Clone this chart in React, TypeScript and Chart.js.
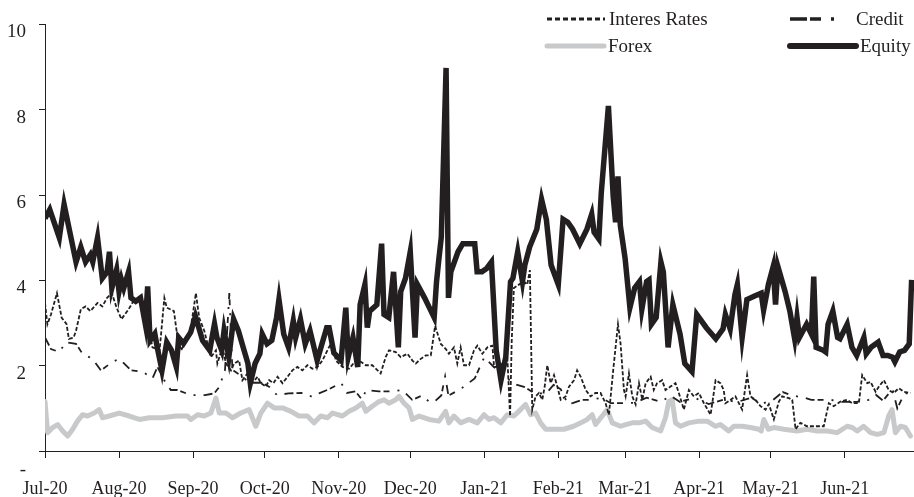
import { useEffect, useRef } from "react";
import { Chart, registerables } from "chart.js";

Chart.register(...registerables);

// ---- Data (x = days since 1 Jul 2020) ----
const monthDays = [0, 31, 62, 92, 123, 153, 184, 215, 243, 274, 304, 335];
const monthLabels = ["Jul-20", "Aug-20", "Sep-20", "Oct-20", "Nov-20", "Dec-20", "Jan-21", "Feb-21", "Mar-21", "Apr-21", "May-21", "Jun-21"];
const yTickValues = [0, 2, 4, 6, 8, 10];
const seriesNames = ["Interes Rates", "Credit", "Forex", "Equity"];

const equityDays = [0, 2, 6, 8, 13, 15, 17, 19, 20, 22, 24, 26, 27, 28, 30, 31, 32, 33, 35, 36, 38, 40, 42, 43, 44, 46, 47, 49, 51, 53, 55, 56, 58, 61, 63, 66, 69, 71, 72, 74, 75, 77, 79, 81, 83, 85, 86, 88, 90, 91, 93, 95, 97, 98, 100, 102, 104, 105, 107, 109, 111, 114, 116, 118, 119, 121, 122, 124, 126, 127, 129, 131, 132, 134, 135, 136, 139, 141, 142, 144, 146, 148, 149, 151, 153, 155, 156, 159, 161, 163, 164, 165, 166, 168, 169, 170, 173, 175, 180, 181, 183, 185, 187, 189, 191, 193, 195, 196, 198, 200, 201, 203, 206, 208, 210, 212, 215, 217, 219, 221, 224, 227, 229, 230, 232, 233, 236, 238, 239, 240, 241, 243, 245, 247, 249, 250, 252, 253, 254, 256, 258, 259, 261, 263, 266, 268, 271, 273, 277, 281, 284, 285, 287, 289, 290, 292, 294, 297, 300, 301, 303, 305, 306, 307, 310, 312, 314, 315, 316, 319, 321, 322, 323, 326, 327, 328, 330, 332, 333, 336, 338, 340, 343, 344, 346, 349, 351, 353, 355, 356, 358, 360, 362, 363];
const equityValues = [5.45, 5.66, 5.0, 5.78, 4.43, 4.78, 4.43, 4.6, 4.43, 5.0, 4.05, 4.2, 4.67, 3.82, 4.25, 3.74, 4.02, 3.82, 4.2, 3.59, 3.51, 3.59, 2.98, 3.86, 2.59, 2.75, 2.43, 1.89, 2.55, 2.36, 1.97, 2.66, 2.52, 2.78, 3.16, 2.59, 2.36, 2.98, 2.66, 2.36, 2.82, 2.2, 3.09, 2.82, 2.43, 2.05, 1.59, 2.05, 2.28, 2.74, 2.51, 2.59, 3.13, 3.55, 2.74, 2.43, 3.05, 2.66, 3.09, 2.51, 2.82, 2.12, 2.51, 2.89, 2.89, 2.3, 2.24, 2.12, 3.36, 2.2, 2.66, 1.97, 3.43, 3.9, 2.89, 3.28, 3.43, 4.86, 3.2, 3.13, 4.2, 2.43, 3.74, 4.05, 4.67, 2.66, 3.9, 3.59, 3.36, 3.13, 3.97, 4.51, 5.01, 8.98, 3.59, 4.2, 4.67, 4.86, 4.86, 4.2, 4.2, 4.28, 4.43, 2.36, 1.66, 2.2, 3.97, 4.05, 4.67, 3.97, 4.36, 4.78, 5.2, 5.9, 5.43, 4.36, 3.9, 5.43, 5.36, 5.2, 4.86, 5.2, 5.55, 5.13, 4.97, 6.05, 8.09, 5.97, 5.36, 6.44, 5.28, 4.51, 3.36, 3.82, 3.97, 3.32, 3.97, 4.01, 2.97, 3.13, 4.43, 4.2, 2.43, 3.43, 2.74, 2.05, 1.86, 3.2, 2.89, 2.63, 2.86, 3.2, 2.86, 3.67, 3.9, 2.66, 3.55, 3.63, 3.7, 3.3, 3.9, 4.32, 3.43, 4.32, 3.74, 3.28, 2.63, 3.13, 2.66, 2.97, 2.74, 4.09, 2.43, 2.36, 2.32, 2.97, 3.28, 2.66, 2.63, 2.97, 2.43, 2.24, 2.66, 2.28, 2.43, 2.55, 2.24, 2.24, 2.2, 2.09, 2.32, 2.36, 2.51, 4.01];

const ratesDays = [0, 1, 2.5, 5, 7, 9, 10, 12, 13, 15, 17, 19, 22, 24, 26, 28, 30, 32, 35, 37, 39.5, 41, 43, 45, 48, 50, 51, 54, 55.5, 57, 58.3, 60.4, 61.8, 63.2, 64.6, 66.7, 69.5, 71.6, 72.2, 74.3, 75.8, 77.9, 79.2, 81.3, 82.7, 84.8, 86.9, 89, 90.4, 92.5, 93.9, 95.7, 97.4, 99.5, 101.6, 103.6, 105.7, 107.8, 109.9, 112, 114.1, 116.2, 118.3, 120.4, 121.8, 124.6, 127.4, 130.2, 132.3, 134.4, 137.1, 140.6, 142.7, 144.1, 146.9, 149, 151.8, 153.9, 155.3, 157.4, 159.5, 161.6, 163.4, 165.8, 167.9, 169.2, 171.3, 172.7, 174.1, 175.5, 177.6, 179.7, 181.1, 183.2, 185.3, 187.4, 188.1, 190.2, 191.5, 193.6, 194.8, 195.5, 196.4, 198.5, 200.6, 202, 203.1, 204.1, 205.5, 206.9, 208.3, 209.3, 210.4, 211.8, 213.2, 214.6, 216, 218.1, 219.5, 221.6, 222.9, 224.4, 226.5, 228.5, 230.6, 232.7, 234.8, 236.2, 238, 240, 241.1, 242.5, 243.2, 244.6, 246, 247.4, 248.8, 250.2, 251.6, 253.7, 255, 256.4, 258.5, 259.9, 262, 264.1, 265.5, 267.6, 269.7, 271.8, 273.9, 276, 278.8, 280.9, 282.9, 284.3, 285, 287.2, 289.2, 292, 294.1, 295.5, 297.6, 299.7, 301.8, 303.2, 305.3, 307.4, 308.8, 311.6, 313, 314.4, 316.4, 319.2, 326.2, 328.3, 330.4, 333.2, 336, 338.1, 340.9, 342.3, 344.4, 345.8, 347.9, 349.3, 351.4, 353.4, 355.5, 357.6, 359.7, 362.5];
const ratesValues = [3.47, 2.97, 3.2, 3.7, 3.12, 2.98, 2.63, 2.66, 2.82, 3.32, 3.39, 3.28, 3.47, 3.39, 3.59, 3.7, 3.36, 3.09, 3.32, 3.51, 3.59, 3.2, 2.97, 2.43, 2.36, 3.59, 3.36, 3.28, 2.66, 2.36, 2.51, 2.7, 3.16, 3.7, 3.12, 2.82, 2.2, 2.36, 2.05, 2.43, 2.05, 1.89, 2.05, 2.12, 1.66, 1.82, 1.59, 1.74, 1.59, 1.51, 1.66, 1.59, 1.74, 1.59, 1.74, 1.89, 1.97, 1.89, 2.01, 1.93, 1.97, 2.12, 2.36, 2.59, 2.12, 1.97, 1.93, 2.12, 2.09, 2.01, 2.01, 1.82, 2.2, 2.36, 2.32, 2.2, 2.28, 2.12, 2.05, 2.16, 2.24, 2.24, 2.93, 2.51, 2.39, 2.28, 2.43, 2.05, 2.43, 2.01, 2.01, 2.36, 2.47, 2.28, 2.43, 2.47, 1.97, 1.97, 2.05, 2.28, 0.82, 2.59, 3.82, 3.9, 3.97, 3.9, 4.24, 0.97, 1.28, 1.36, 1.2, 1.51, 2.01, 1.59, 1.78, 1.51, 1.2, 1.28, 1.51, 1.66, 1.89, 1.74, 1.43, 1.28, 1.36, 1.36, 1.12, 0.85, 1.89, 2.97, 2.51, 1.43, 1.28, 1.82, 1.28, 1.09, 1.59, 1.2, 1.59, 1.74, 1.43, 1.59, 1.66, 1.43, 1.51, 1.59, 1.36, 0.97, 1.43, 1.28, 1.36, 1.12, 0.85, 1.66, 1.59, 1.43, 1.12, 1.2, 1.28, 0.97, 1.78, 1.28, 1.2, 1.05, 0.97, 1.1, 0.74, 1.16, 1.28, 1.24, 1.2, 0.51, 0.66, 0.58, 0.58, 1.12, 1.05, 1.16, 1.2, 1.12, 1.12, 1.78, 1.59, 1.62, 1.39, 1.51, 1.66, 1.43, 1.36, 1.47, 1.39, 1.36];

const creditDays = [0, 2.5, 6, 8.8, 13, 15.7, 19.9, 23.4, 28.3, 31.1, 32.5, 36, 40.9, 45, 47.1, 50.6, 52.7, 55.5, 61, 67, 70.9, 73, 75.4, 77.2, 78.5, 82.6, 85.5, 91, 94, 97.2, 102, 108.4, 111.9, 114.8, 119, 124, 126.5, 130, 132.8, 134.5, 139.8, 145.4, 149.6, 153.8, 158, 161, 163, 166, 167.6, 169, 174, 180, 184, 188, 192, 196, 201, 205, 210, 213, 216, 219, 221, 225, 229, 233, 237, 242, 247, 252, 258, 262, 266, 272, 278, 284, 290, 296, 300, 305, 309, 313, 318, 321, 325, 329, 334, 340, 345, 348, 351, 355, 357, 360, 363];
const creditValues = [2.66, 2.39, 2.32, 2.55, 2.51, 2.28, 2.16, 1.89, 2.09, 2.16, 2.09, 1.89, 1.86, 1.7, 1.97, 1.59, 1.43, 1.43, 1.31, 1.31, 1.35, 1.5, 1.9, 3.7, 1.9, 1.75, 1.6, 1.6, 1.5, 1.31, 1.35, 1.36, 1.27, 1.35, 1.45, 1.6, 1.36, 1.4, 1.2, 1.43, 1.4, 1.4, 1.43, 1.2, 1.3, 1.15, 1.15, 1.3, 1.75, 1.3, 1.45, 1.7, 2.2, 1.97, 1.8, 1.58, 1.5, 1.35, 1.35, 1.55, 1.45, 1.1, 1.12, 1.2, 1.2, 1.25, 1.12, 1.12, 1.13, 1.25, 1.15, 1.3, 1.15, 1.25, 1.1, 1.2, 1.15, 1.25, 1.1, 1.2, 1.38, 1.3, 1.25, 1.2, 1.2, 1.2, 1.15, 1.15, 1.2, 1.32, 1.18, 1.45, 1.0, 1.35, 1.35];

const forexDays = [0, 1.1, 3.2, 5.3, 7.4, 9.5, 11.6, 13.6, 15.7, 17.8, 20.6, 22.7, 24.1, 26.9, 31.1, 35.3, 39.5, 43.7, 49.2, 54.8, 59.7, 61.1, 63.9, 66.7, 69.5, 71.6, 73, 75.8, 78.5, 82, 85.5, 88.3, 90.4, 93.2, 96, 99.5, 103, 106.4, 109.9, 112.7, 115.5, 118.3, 120.4, 124.6, 127.4, 130.2, 132.9, 134.4, 137.1, 139.9, 142, 144.1, 146.9, 148.3, 150.4, 152.5, 153.9, 156.7, 160.9, 165, 167.8, 169.2, 171.3, 174.1, 177.6, 181.1, 183.9, 186, 188.1, 190.9, 193.6, 196.4, 199.2, 201.3, 203.4, 205.5, 207.6, 209.7, 213.2, 217.3, 221.4, 224.4, 227.1, 229.2, 230.6, 233.4, 235.5, 237.6, 241.1, 243.2, 246, 248.8, 251.6, 254.3, 257.9, 259.9, 261.3, 262.7, 264.1, 266.2, 269.7, 273.9, 277.4, 280.9, 282.9, 286.4, 288.5, 292, 295.5, 299, 300, 301.1, 303, 305.3, 309.5, 315, 319.2, 323.4, 327.6, 331.8, 336, 338.1, 340.2, 342.9, 345.8, 348.6, 351.4, 353.4, 354.8, 356.2, 358.3, 360.4, 362.5];
const forexValues = [1.16, 0.43, 0.55, 0.62, 0.47, 0.35, 0.51, 0.7, 0.85, 0.82, 0.89, 0.97, 0.78, 0.82, 0.89, 0.82, 0.74, 0.78, 0.78, 0.82, 0.82, 0.74, 0.85, 0.82, 0.89, 1.24, 0.89, 0.89, 0.78, 0.89, 0.97, 0.58, 0.89, 1.12, 1.01, 1.01, 0.93, 0.82, 0.82, 0.66, 0.82, 0.78, 0.89, 0.82, 0.93, 1.01, 1.12, 0.93, 1.05, 1.16, 1.2, 1.12, 1.2, 1.28, 1.12, 1.01, 0.74, 0.82, 0.74, 0.7, 0.93, 0.66, 0.82, 0.66, 0.74, 0.66, 0.85, 0.74, 0.78, 0.66, 0.85, 0.82, 0.97, 1.09, 0.85, 0.89, 0.66, 0.51, 0.51, 0.51, 0.58, 0.66, 0.74, 0.85, 0.62, 0.82, 0.97, 0.66, 0.58, 0.62, 0.66, 0.66, 0.7, 0.55, 0.47, 0.78, 1.16, 1.2, 0.66, 0.58, 0.66, 0.7, 0.7, 0.58, 0.62, 0.47, 0.58, 0.58, 0.55, 0.51, 0.47, 0.74, 0.51, 0.55, 0.51, 0.47, 0.51, 0.47, 0.47, 0.43, 0.58, 0.55, 0.47, 0.58, 0.43, 0.39, 0.43, 0.82, 0.97, 0.43, 0.58, 0.55, 0.35];

// ---- Styles ----
const INK = "#231f20";
const GREY = "#c8c9cb";
const FONT = "'Liberation Serif', 'Times New Roman', serif";
const RATES_DASH = [4, 2];
const CREDIT_DASH = [9, 3, 6, 8, 2, 8];

const pairs = (xs: number[], ys: number[]) => xs.map((x, i) => ({ x, y: ys[i] }));

const legendPlugin = {
  id: "customLegend",
  afterDraw(chart: any) {
    const ctx = chart.ctx as CanvasRenderingContext2D;
    const W = chart.width;
    const c1 = W - 367;
    const c2 = W - 124;
    const r1 = 19;
    const r2 = 46;
    const items = [
      { name: seriesNames[0], x0: c1, x1: c1 + 58, y: r1, color: INK, width: 3, dash: [5, 3], cap: "butt" },
      { name: seriesNames[1], x0: c2, x1: c2 + 62, y: r1, color: INK, width: 3.5, dash: [17, 3, 11, 10, 3, 40], cap: "butt" },
      { name: seriesNames[2], x0: c1, x1: c1 + 57, y: r2, color: GREY, width: 5, dash: [], cap: "round" },
      { name: seriesNames[3], x0: c2, x1: c2 + 66, y: r2, color: INK, width: 6, dash: [], cap: "round" },
    ];
    ctx.save();
    ctx.font = `19px ${FONT}`;
    ctx.textBaseline = "middle";
    ctx.textAlign = "left";
    for (const it of items) {
      ctx.beginPath();
      ctx.setLineDash(it.dash);
      ctx.lineWidth = it.width;
      ctx.strokeStyle = it.color;
      ctx.lineCap = it.cap as CanvasLineCap;
      ctx.moveTo(it.x0, it.y);
      ctx.lineTo(it.x1, it.y);
      ctx.stroke();
      ctx.setLineDash([]);
      ctx.fillStyle = INK;
      ctx.fillText(it.name, it.x1 + 4, it.y + 1);
    }
    ctx.restore();
  },
};

export default function App() {
  const ref = useRef<HTMLCanvasElement | null>(null);

  useEffect(() => {
    if (!ref.current) return;
    const chart = new Chart(ref.current, {
      type: "line",
      data: {
        datasets: [
          {
            label: seriesNames[3],
            data: pairs(equityDays, equityValues),
            borderColor: INK,
            borderWidth: 5.5,
            pointRadius: 0,
            tension: 0,
            borderJoinStyle: "miter",
          },
          {
            label: seriesNames[0],
            data: pairs(ratesDays, ratesValues),
            borderColor: INK,
            borderWidth: 1.8,
            borderDash: RATES_DASH,
            pointRadius: 0,
            tension: 0,
          },
          {
            label: seriesNames[1],
            data: pairs(creditDays, creditValues),
            borderColor: INK,
            borderWidth: 1.8,
            borderDash: CREDIT_DASH,
            pointRadius: 0,
            tension: 0,
          },
          {
            label: seriesNames[2],
            data: pairs(forexDays, forexValues),
            borderColor: GREY,
            borderWidth: 5,
            pointRadius: 0,
            tension: 0,
            borderJoinStyle: "round",
            borderCapStyle: "round",
          },
        ],
      },
      options: {
        animation: false,
        responsive: true,
        maintainAspectRatio: false,
        devicePixelRatio: 1,
        layout: { padding: { top: 19, right: 0, left: 0, bottom: 0 } },
        plugins: { legend: { display: false }, tooltip: { enabled: false } },
        scales: {
          x: {
            type: "linear",
            min: 0,
            max: 364,
            afterBuildTicks: (s: any) => {
              s.ticks = monthDays.map((v) => ({ value: v }));
            },
            afterFit: (s: any) => {
              s.height = 46;
            },
            ticks: {
              autoSkip: false,
              maxRotation: 0,
              padding: 20,
              color: INK,
              font: { family: FONT, size: 18 },
              callback: (v: any) => {
                const i = monthDays.indexOf(Number(v));
                return i >= 0 ? monthLabels[i] : "";
              },
            },
            grid: { display: true, drawOnChartArea: false, drawTicks: true, tickLength: 7, color: INK, lineWidth: 1 },
            border: { display: true, color: INK, width: 1 },
          },
          y: {
            min: 0,
            max: 10,
            afterBuildTicks: (s: any) => {
              s.ticks = yTickValues.map((v) => ({ value: v }));
            },
            afterFit: (s: any) => {
              s.width = 45;
            },
            ticks: {
              padding: 13,
              labelOffset: 8,
              color: INK,
              font: { family: FONT, size: 19 },
              callback: (v: any) => (Number(v) === 0 ? ["", "-"] : String(v)),
            },
            grid: { display: true, drawOnChartArea: false, drawTicks: true, tickLength: 6, color: INK, lineWidth: 1 },
            border: { display: true, color: INK, width: 1 },
          },
        },
      },
      plugins: [legendPlugin],
    });
    return () => chart.destroy();
  }, []);

  return (
    <div style={{ position: "absolute", left: 0, top: 0, width: 914, height: 497, background: "#fff" }}>
      <canvas ref={ref} />
    </div>
  );
}
